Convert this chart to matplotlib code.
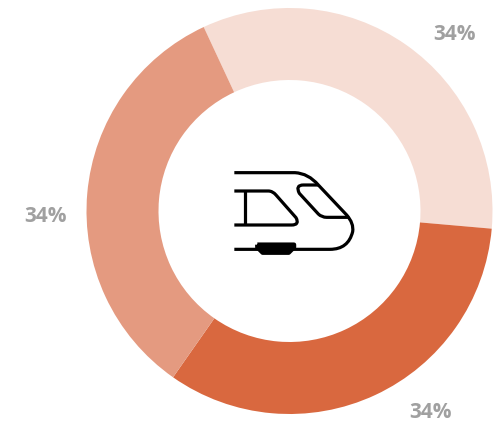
import matplotlib
matplotlib.use("Agg")
import matplotlib.pyplot as plt
from matplotlib.path import Path
from matplotlib.patches import PathPatch

# Chart data
values = [34, 34, 34]
labels = ["34%", "34%", "34%"]
colors = ["#F6DDD4", "#D9683F", "#E49A80"]

WIDTH, HEIGHT = 503, 424

fig = plt.figure(figsize=(WIDTH / 100, HEIGHT / 100), dpi=100)
ax = fig.add_axes([0, 0, 1, 1])

ax.pie(values, colors=colors, startangle=115, counterclock=False,
       center=(289.5, HEIGHT - 211), radius=203, frame=True,
       wedgeprops={"width": 72, "linewidth": 0})
ax.set_xlim(0, WIDTH)
ax.set_ylim(0, HEIGHT)
ax.set_aspect("equal")
ax.axis("off")

# Percent labels
label_pos = [(455, HEIGHT - 34), (431, HEIGHT - 412.5), (45.5, HEIGHT - 216)]
for text, (x, y) in zip(labels, label_pos):
    ax.text(x, y, text, ha="center", va="center", fontsize=15,
            family="Open Sans", fontweight="bold", color="#A0A0A0")


def pt(x, y):
    return (210 + x / 3, HEIGHT - (150 + y / 3))


def stroke(points, codes, lw=2.3):
    verts = [pt(*p) for p in points]
    ax.add_patch(PathPatch(Path(verts, codes), fill=False, edgecolor="black",
                           linewidth=lw, capstyle="butt", joinstyle="round"))


M, L, C = Path.MOVETO, Path.LINETO, Path.CURVE3

# Train body
stroke([(73, 68), (255, 68), (295, 70), (325, 105), (410, 195), (432, 220), (428, 245),
        (415, 298), (360, 298), (73, 298)],
       [M, L, C, C, L, C, C, C, C, L])

# Front window
stroke([(325, 105), (280, 105), (255, 105), (268, 130), (325, 192), (335, 202), (350, 202), (415, 202)],
       [M, L, C, C, L, C, C, L])

# Side window
stroke([(73, 123), (175, 123), (188, 123), (198, 135), (258, 203), (270, 225), (245, 225), (73, 225)],
       [M, L, C, C, L, C, C, L])
stroke([(105, 123), (105, 225)], [M, L])

# Bogie
bogie = [(142, 284), (252, 284), (252, 292), (236, 308), (158, 308), (142, 292), (142, 284)]
ax.add_patch(PathPatch(Path([pt(*p) for p in bogie]),
                       facecolor="black", edgecolor="black", linewidth=3.2, joinstyle="round"))

fig.savefig("out.png", dpi=100)
